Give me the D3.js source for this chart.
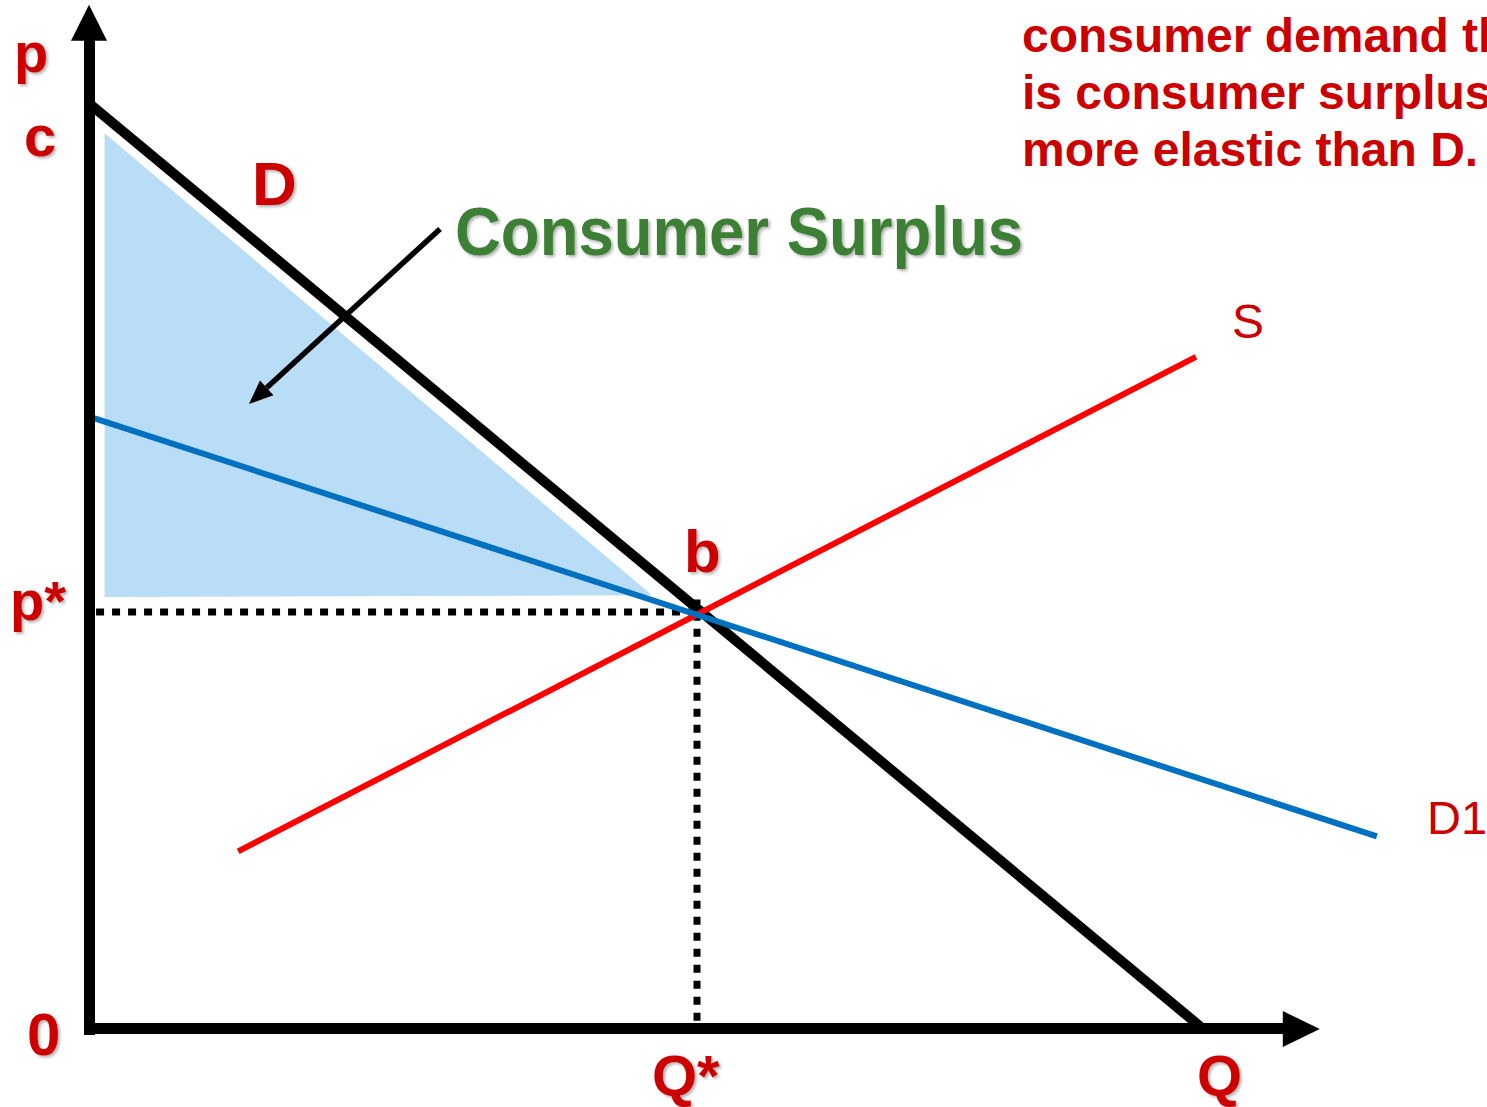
<!DOCTYPE html>
<html>
<head>
<meta charset="utf-8">
<script src="https://cdn.jsdelivr.net/npm/d3@7"></script>
<style>
  html, body { margin: 0; padding: 0; background: #fff; }
  svg { display: block; }
</style>
</head>
<body>
<svg id="chart"></svg>
<script>
// curves in (quantity, price) units
const demandD = [{q: 0, p: 110.9}, {q: 91.7, p: 0}];
const supplyS = [{q: 12.2, p: 21.3}, {q: 91.1, p: 80.6}];
const demandD1 = [{q: 0, p: 73.4}, {q: 106.0, p: 23.1}];
const surplusArea = [{q: 1.2, p: 107.4}, {q: 1.2, p: 51.8}, {q: 46.3, p: 52.0}];
const equilibrium = {q: 50, p: 50};
const axisMax = {q: 101.3, p: 122.8};
const noteLines = ["consumer demand that", "is consumer surplus", "more elastic than D."];

const width = 1487, height = 1107;
const red = "#cc0000";

const svg = d3.select("#chart").attr("width", width).attr("height", height);

const x = d3.scaleLinear().domain([0, 100]).range([90, 1304]);
const y = d3.scaleLinear().domain([0, 100]).range([1029, 195]);

const defs = svg.append("defs");
defs.append("filter").attr("id", "shadow")
  .attr("x", "-20%").attr("y", "-20%").attr("width", "140%").attr("height", "140%")
  .append("feDropShadow")
  .attr("dx", 2).attr("dy", 2).attr("stdDeviation", 1.5)
  .attr("flood-color", "#000").attr("flood-opacity", 0.3);

const line = d3.line().x(d => x(d.q)).y(d => y(d.p));

// consumer surplus triangle
svg.append("path")
  .attr("d", line(surplusArea) + "Z")
  .attr("fill", "#b9ddf6");

// dotted guides to equilibrium
svg.append("path")
  .attr("d", line([{q: 0.5, p: equilibrium.p}, equilibrium]))
  .attr("stroke", "#000").attr("stroke-width", 7)
  .attr("stroke-dasharray", "8,8").attr("fill", "none");
svg.append("path")
  .attr("d", line([{q: equilibrium.q, p: 1}, {q: equilibrium.q, p: equilibrium.p + 1.5}]))
  .attr("stroke", "#000").attr("stroke-width", 7)
  .attr("stroke-dasharray", "8,8").attr("fill", "none");

// curves
svg.append("path").attr("d", line(demandD))
  .attr("stroke", "#000").attr("stroke-width", 10).attr("fill", "none");
svg.append("path").attr("d", line(supplyS))
  .attr("stroke", "#ff0000").attr("stroke-width", 6).attr("fill", "none");
svg.append("path").attr("d", line(demandD1))
  .attr("stroke", "#0070c0").attr("stroke-width", 6).attr("fill", "none");

// axes with arrow heads
const axes = svg.append("g").attr("fill", "#000");
axes.append("rect")
  .attr("x", x(0) - 6).attr("y", y(axisMax.p) + 34)
  .attr("width", 11).attr("height", y(0) + 6 - (y(axisMax.p) + 34));
axes.append("path")
  .attr("d", `M${x(0) - 1},${y(axisMax.p)} L${x(0) + 17},${y(axisMax.p) + 36} L${x(0) - 19},${y(axisMax.p) + 36}Z`);
axes.append("rect")
  .attr("x", x(0) - 6).attr("y", y(0) - 6)
  .attr("width", x(axisMax.q) - 36 - (x(0) - 6)).attr("height", 11);
axes.append("path")
  .attr("d", `M${x(axisMax.q)},${y(0)} L${x(axisMax.q) - 37},${y(0) - 18} L${x(axisMax.q) - 37},${y(0) + 18}Z`);

// pointer arrow to the surplus area
const from = [440, 229], to = [249, 404];
const ang = Math.atan2(to[1] - from[1], to[0] - from[0]);
const headLen = 24, headW = 10;
const base = [to[0] - headLen * Math.cos(ang), to[1] - headLen * Math.sin(ang)];
svg.append("line")
  .attr("x1", from[0]).attr("y1", from[1])
  .attr("x2", base[0]).attr("y2", base[1])
  .attr("stroke", "#000").attr("stroke-width", 5.5);
svg.append("path")
  .attr("d", `M${to[0]},${to[1]}` +
    `L${base[0] + headW * Math.sin(ang)},${base[1] - headW * Math.cos(ang)}` +
    `L${base[0] - headW * Math.sin(ang)},${base[1] + headW * Math.cos(ang)}Z`)
  .attr("fill", "#000");

// labels
const labels = [
  {t: "p", x: 14, y: 72, size: 56},
  {t: "c", x: 24, y: 156, size: 58},
  {t: "D", x: 252, y: 205, size: 62},
  {t: "p*", x: 10, y: 620, size: 56},
  {t: "b", x: 684, y: 572, size: 60},
  {t: "0", x: 27, y: 1055, size: 60},
  {t: "Q*", x: 652, y: 1096, size: 58},
  {t: "Q", x: 1197, y: 1096, size: 58}
];
svg.append("g").selectAll("text")
  .data(labels)
  .join("text")
  .attr("x", d => d.x).attr("y", d => d.y)
  .attr("font-family", "Liberation Sans, Arial, sans-serif")
  .attr("font-weight", "bold")
  .attr("font-size", d => d.size)
  .attr("fill", red)
  .attr("filter", "url(#shadow)")
  .text(d => d.t);

svg.append("text")
  .attr("x", 1232).attr("y", 338)
  .attr("font-family", "Liberation Sans, Arial, sans-serif")
  .attr("font-size", 48).attr("fill", red)
  .text("S");
svg.append("text")
  .attr("x", 1427).attr("y", 834)
  .attr("font-family", "Liberation Sans, Arial, sans-serif")
  .attr("font-size", 47).attr("fill", red)
  .text("D1");

svg.append("text")
  .attr("x", 455).attr("y", 255)
  .attr("font-family", "Liberation Sans, Arial, sans-serif")
  .attr("font-weight", "bold")
  .attr("font-size", 68)
  .attr("textLength", 568).attr("lengthAdjust", "spacingAndGlyphs")
  .attr("fill", "#3d8035")
  .attr("filter", "url(#shadow)")
  .text("Consumer Surplus");

svg.append("g").selectAll("text")
  .data(noteLines)
  .join("text")
  .attr("x", 1022).attr("y", (d, i) => 52 + i * 57)
  .attr("font-family", "Liberation Sans, Arial, sans-serif")
  .attr("font-weight", "bold")
  .attr("font-size", 48)
  .attr("fill", red)
  .text(d => d);
</script>
</body>
</html>
